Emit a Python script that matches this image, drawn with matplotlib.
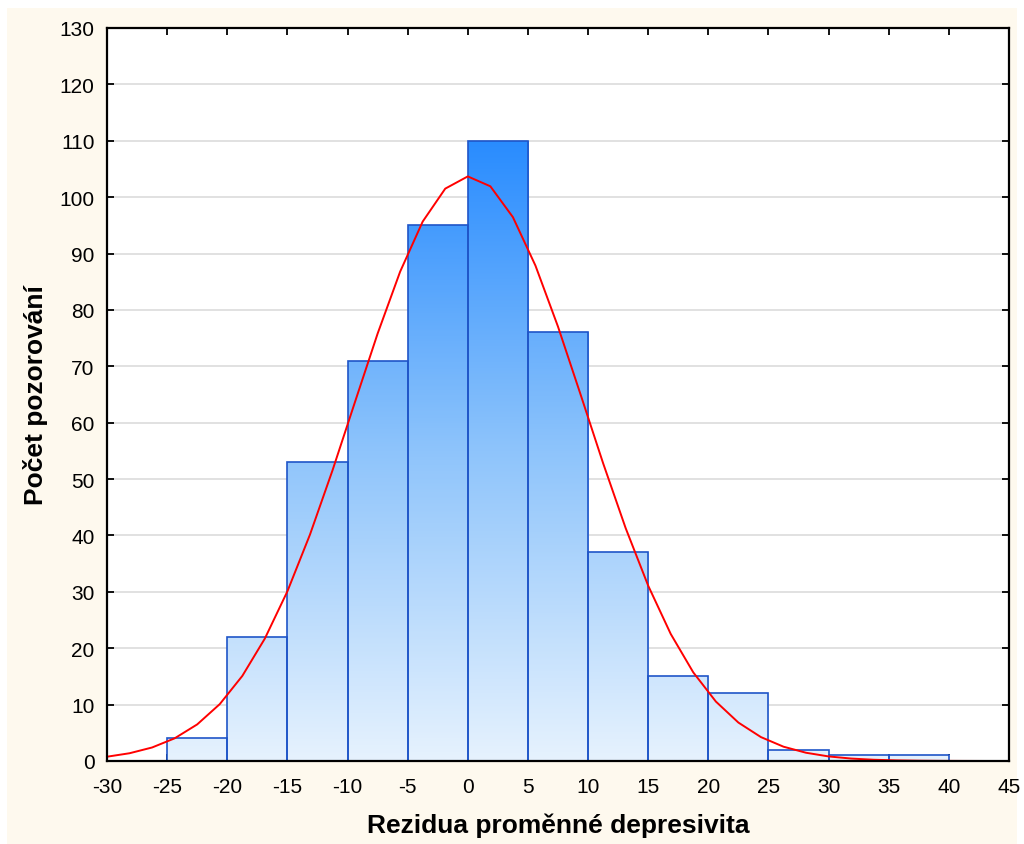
import numpy as np
import matplotlib
matplotlib.use("Agg")
import matplotlib.pyplot as plt
from matplotlib.colors import LinearSegmentedColormap
from matplotlib.patches import Rectangle

plt.rcParams['font.family'] = ['Liberation Sans', 'DejaVu Sans']

# Histogram of residuals (bin width 5)
bin_left = [-25, -20, -15, -10, -5, 0, 5, 10, 15, 20, 25, 30, 35]
counts = [4, 22, 53, 71, 95, 110, 76, 37, 15, 12, 2, 1, 1]
bin_width = 5

# Fitted normal curve parameters
mu = 0.1
sigma = 9.6

x_ticks = list(range(-30, 50, 5))
y_ticks = list(range(0, 140, 10))

fig = plt.figure(figsize=(10.24, 8.45), dpi=100, facecolor='white')
# cream panel behind the chart
fig.patches.append(Rectangle((7 / 1024, 0), 1010 / 1024, 1 - 9 / 845,
                             transform=fig.transFigure, facecolor='#FEF9EE',
                             edgecolor='none', zorder=-10))

ax = fig.add_axes([107 / 1024, 1 - 762 / 845, 902 / 1024, 733 / 845])
ax.set_facecolor('white')

cmap = LinearSegmentedColormap.from_list('bars', ['#E6F2FE', '#8EC4FB', '#298CFF'])
top = max(counts)
for x0, c in zip(bin_left, counts):
    grad = np.linspace(0, c / top, 256).reshape(-1, 1)
    im = ax.imshow(grad, cmap=cmap, vmin=0, vmax=1, origin='lower', aspect='auto',
                   extent=(x0, x0 + bin_width, 0, c), zorder=2, interpolation='bilinear')
    rect = Rectangle((x0, 0), bin_width, c, facecolor='none', edgecolor='#1F55C8',
                     linewidth=1.2, zorder=3)
    ax.add_patch(rect)
    im.set_clip_path(rect)

# expected normal frequencies
n_total = sum(counts)
xs = np.linspace(-30, 45, 41)
ys = n_total * bin_width / (sigma * np.sqrt(2 * np.pi)) * np.exp(-0.5 * ((xs - mu) / sigma) ** 2)
ax.plot(xs, ys, color='#FF0000', linewidth=1.4, zorder=4, clip_on=False)

ax.set_xlim(-30, 45)
ax.set_ylim(0, 130)
ax.set_xticks(x_ticks)
ax.set_xticklabels([str(v) for v in x_ticks])
ax.set_yticks(y_ticks)
ax.grid(axis='y', color='#DCDCDC', linewidth=1.2, zorder=0)
ax.set_axisbelow(True)
ax.tick_params(direction='in', length=5, width=1.3, top=True, right=True,
               labelsize=15, colors='black')
ax.tick_params(axis='x', pad=11.5)
ax.tick_params(axis='y', pad=9)
for s in ax.spines.values():
    s.set_linewidth(1.6)
    s.set_zorder(5)

ax.set_xlabel('Rezidua proměnné depresivita', fontsize=19, fontweight='bold', labelpad=12)
ax.set_ylabel('Počet pozorování', fontsize=19, fontweight='bold', labelpad=8)

fig.savefig('out.png', dpi=100, facecolor=fig.get_facecolor())
